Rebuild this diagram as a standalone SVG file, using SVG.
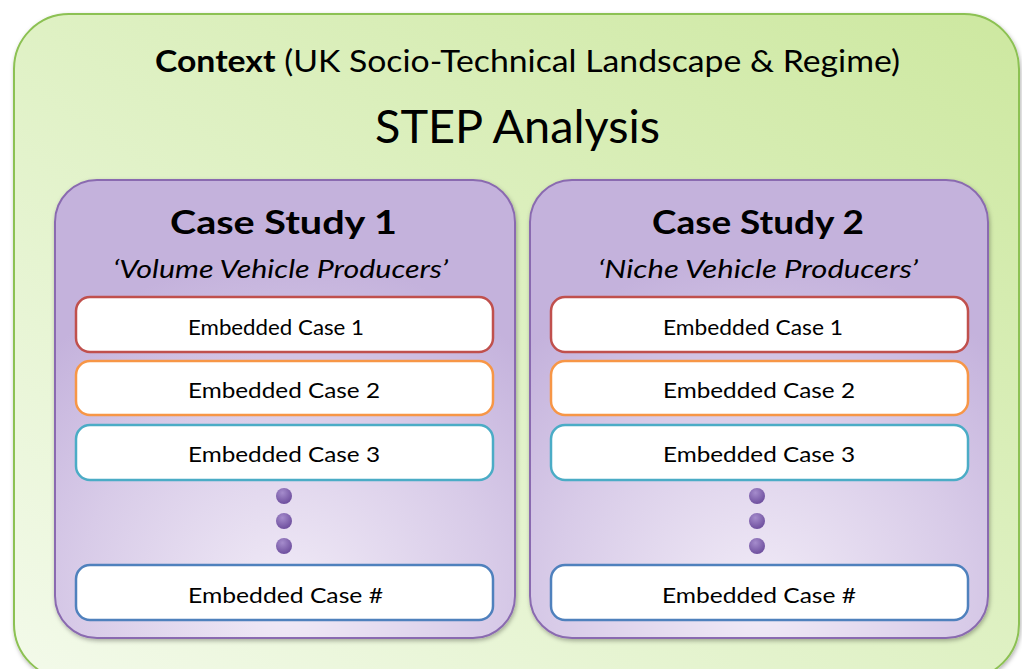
<svg xmlns="http://www.w3.org/2000/svg" width="1022" height="669" viewBox="0 0 1022 669">
<defs>
<linearGradient id="gGreen" x1="1" y1="0" x2="0" y2="1">
<stop offset="0" stop-color="#cde8a0"/>
<stop offset="0.5" stop-color="#dff1c4"/>
<stop offset="1" stop-color="#f3faea"/>
</linearGradient>
<radialGradient id="gPurple" cx="0.5" cy="0.92" r="0.75">
<stop offset="0" stop-color="#f1ebf7"/>
<stop offset="0.6" stop-color="#d8cbe8"/>
<stop offset="1" stop-color="#c4b2dc"/>
</radialGradient>
<radialGradient id="gDot" cx="0.4" cy="0.3" r="0.7">
<stop offset="0" stop-color="#a58ccc"/>
<stop offset="1" stop-color="#6e4f9e"/>
</radialGradient>
<filter id="sh" x="-5%" y="-5%" width="110%" height="110%">
<feDropShadow dx="1" dy="2" stdDeviation="2" flood-color="#000" flood-opacity="0.3"/>
</filter>
</defs>
<style>
text{font-family:"Lato","Open Sans","Liberation Sans",sans-serif;fill:#000}
.ctx{font-size:31px}
.b{font-weight:bold}
.step{font-size:46px}
.cs{font-size:33px;font-weight:bold}
.sub{font-size:25px;font-style:italic}
.emb{font-size:22px}
.panel{fill:url(#gPurple);stroke:#8a6bb0;stroke-width:2}
.box{fill:#fff;stroke-width:2.5}
.dot{fill:url(#gDot)}
</style>
<rect width="1022" height="669" fill="#fff"/>
<g id="context">
<rect x="14" y="14" width="1005" height="665" rx="55" fill="url(#gGreen)" stroke="#8cc152" stroke-width="2" filter="url(#sh)"/>
<text class="ctx" x="155" y="72" textLength="745" lengthAdjust="spacingAndGlyphs"><tspan class="b">Context</tspan> (UK Socio-Technical Landscape &amp; Regime)</text>
<text class="step" x="375" y="143" textLength="285" lengthAdjust="spacingAndGlyphs">STEP Analysis</text>
</g>
<g id="case1">
<rect class="panel" x="55" y="180" width="460" height="458" rx="42" filter="url(#sh)"/>
<text class="cs" x="170" y="234" textLength="227" lengthAdjust="spacingAndGlyphs">Case Study 1</text>
<text class="sub" x="113" y="278" textLength="335" lengthAdjust="spacingAndGlyphs">‘Volume Vehicle Producers’</text>
</g>
<g id="case2">
<rect class="panel" x="530" y="180" width="458" height="458" rx="42" filter="url(#sh)"/>
<text class="cs" x="652" y="234" textLength="212" lengthAdjust="spacingAndGlyphs">Case Study 2</text>
<text class="sub" x="598" y="278" textLength="320" lengthAdjust="spacingAndGlyphs">‘Niche Vehicle Producers’</text>
</g>
<g id="c1e1"><rect class="box" x="76" y="297" width="417" height="55" rx="14" stroke="#c0504d"/><text class="emb" x="188" y="335" textLength="176" lengthAdjust="spacingAndGlyphs">Embedded Case 1</text></g>
<g id="c1e2"><rect class="box" x="76" y="361" width="417" height="54" rx="14" stroke="#f79646"/><text class="emb" x="188" y="398" textLength="192" lengthAdjust="spacingAndGlyphs">Embedded Case 2</text></g>
<g id="c1e3"><rect class="box" x="76" y="425" width="417" height="55" rx="14" stroke="#4bacc6"/><text class="emb" x="188" y="462" textLength="192" lengthAdjust="spacingAndGlyphs">Embedded Case 3</text></g>
<g id="c1dots"><circle class="dot" cx="284" cy="496" r="8"/><circle class="dot" cx="284" cy="521" r="8"/><circle class="dot" cx="284" cy="546" r="8"/></g>
<g id="c1e4"><rect class="box" x="76" y="565" width="417" height="55" rx="14" stroke="#4f81bd"/><text class="emb" x="188" y="603" textLength="195" lengthAdjust="spacingAndGlyphs">Embedded Case #</text></g>
<g id="c2e1"><rect class="box" x="551" y="297" width="417" height="55" rx="14" stroke="#c0504d"/><text class="emb" x="663" y="335" textLength="180" lengthAdjust="spacingAndGlyphs">Embedded Case 1</text></g>
<g id="c2e2"><rect class="box" x="551" y="361" width="417" height="54" rx="14" stroke="#f79646"/><text class="emb" x="663" y="398" textLength="192" lengthAdjust="spacingAndGlyphs">Embedded Case 2</text></g>
<g id="c2e3"><rect class="box" x="551" y="425" width="417" height="55" rx="14" stroke="#4bacc6"/><text class="emb" x="663" y="462" textLength="192" lengthAdjust="spacingAndGlyphs">Embedded Case 3</text></g>
<g id="c2dots"><circle class="dot" cx="757" cy="496" r="8"/><circle class="dot" cx="757" cy="521" r="8"/><circle class="dot" cx="757" cy="546" r="8"/></g>
<g id="c2e4"><rect class="box" x="551" y="565" width="417" height="55" rx="14" stroke="#4f81bd"/><text class="emb" x="662" y="603" textLength="194" lengthAdjust="spacingAndGlyphs">Embedded Case #</text></g>
<g id="connectors"></g>
</svg>
